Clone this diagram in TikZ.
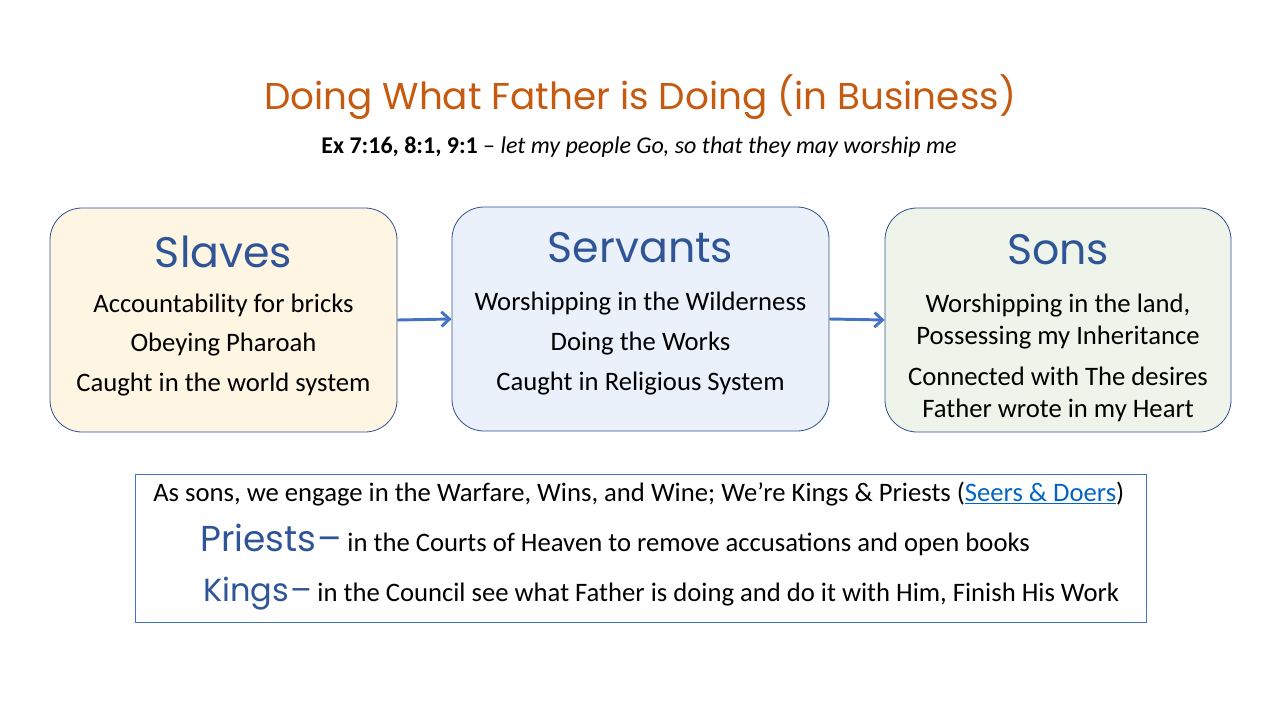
\documentclass[tikz,border=0pt]{standalone}
\usepackage{fontspec}
\usepackage{tikz}
\usetikzlibrary{arrows.meta}
\setmainfont{Carlito}
\newfontfamily\handfont{Poppins}

\definecolor{titleorange}{HTML}{C55A11}
\definecolor{headblue}{HTML}{2F5597}
\definecolor{edgeblue}{HTML}{2F528F}
\definecolor{arrowblue}{HTML}{4472C4}
\definecolor{linkblue}{HTML}{0563C1}
\definecolor{slavefill}{HTML}{FEF5E2}
\definecolor{servantfill}{HTML}{EAF1FA}
\definecolor{sonfill}{HTML}{EEF4E9}

\tikzset{
  stagebox/.style={draw=edgeblue, line width=0.6pt, rounded corners=24pt,
    minimum height=168pt, inner sep=0pt},
  stagehead/.style={font=\handfont\fontsize{32}{38}\selectfont, text=headblue},
  stageline/.style={font=\fontsize{20}{24}\selectfont, align=center, inner sep=0pt},
  flowarrow/.style={draw=arrowblue, line width=2.2pt, -{Straight Barb[length=6pt,width=11pt]}},
  notebox/.style={draw=arrowblue, line width=0.7pt, minimum width=758.25pt,
    minimum height=111pt, inner sep=0pt},
  noteline/.style={font=\fontsize{20}{24}\selectfont, anchor=west, inner sep=0pt},
}

\begin{document}
\begin{tikzpicture}[x=0.75pt, y=-0.75pt]
    \useasboundingbox (0,0) rectangle (1280,720);

    % Title
    \node[text=titleorange, font=\handfont\fontsize{28}{34}\selectfont] (title) at (640,97)
        {Doing What Father is Doing (in Business)};
    \node[font=\fontsize{18}{22}\selectfont] (verse) at (639,147)
        {\textbf{Ex 7:16, 8:1, 9:1} – \textit{let my people Go, so that they may worship me}};

    % Three stages
    \node[stagebox, fill=slavefill, minimum width=260.25pt] (slaves) at (223.5,320) {};
    \node[stagebox, fill=servantfill, minimum width=282.75pt] (servants) at (640.5,319) {};
    \node[stagebox, fill=sonfill, minimum width=259.5pt] (sons) at (1058,320) {};

    \draw[flowarrow] (slaves.east) -- (servants.west);
    \draw[flowarrow] (servants.east) -- (sons.west);

    % Slaves
    \node[stagehead] (slaveshead) at (223.5,252) {Slaves};
    \node[stageline] (slaves1) at (223.5,305) {Accountability for bricks};
    \node[stageline] (slaves2) at (223.5,345) {Obeying Pharoah};
    \node[stageline] (slaves3) at (223.5,385) {Caught in the world system};

    % Servants
    \node[stagehead] (servantshead) at (640.5,248) {Servants};
    \node[stageline] (servants1) at (640.5,304) {Worshipping in the Wilderness};
    \node[stageline] (servants2) at (640.5,344) {Doing the Works};
    \node[stageline] (servants3) at (640.5,384) {Caught in Religious System};

    % Sons
    \node[stagehead] (sonshead) at (1058,250) {Sons};
    \node[stageline] (sons1) at (1058,322) {Worshipping in the land,\\Possessing my Inheritance};
    \node[stageline] (sons2) at (1058,394) {Connected with The desires\\Father wrote in my Heart};

    % Kings and priests
    \node[notebox] (note) at (640.5,548) {};
    \node[noteline] (note1) at (153,494)
        {As sons, we engage in the Warfare, Wins, and Wine; We’re Kings \& Priests
         (\textcolor{linkblue}{\underline{Seers \& Doers}})};
    \node[noteline] (note2) at (200,540)
        {{\handfont\fontsize{27}{30}\selectfont\color{headblue}Priests\hspace{1pt}–}\hspace{4pt}in the Courts of Heaven to remove accusations and open books};
    \node[noteline] (note3) at (203,594)
        {{\handfont\fontsize{24}{28}\selectfont\color{headblue}Kings\hspace{1pt}–}\hspace{4pt}in the Council see what Father is doing and do it with Him, Finish His Work};
\end{tikzpicture}
\end{document}
